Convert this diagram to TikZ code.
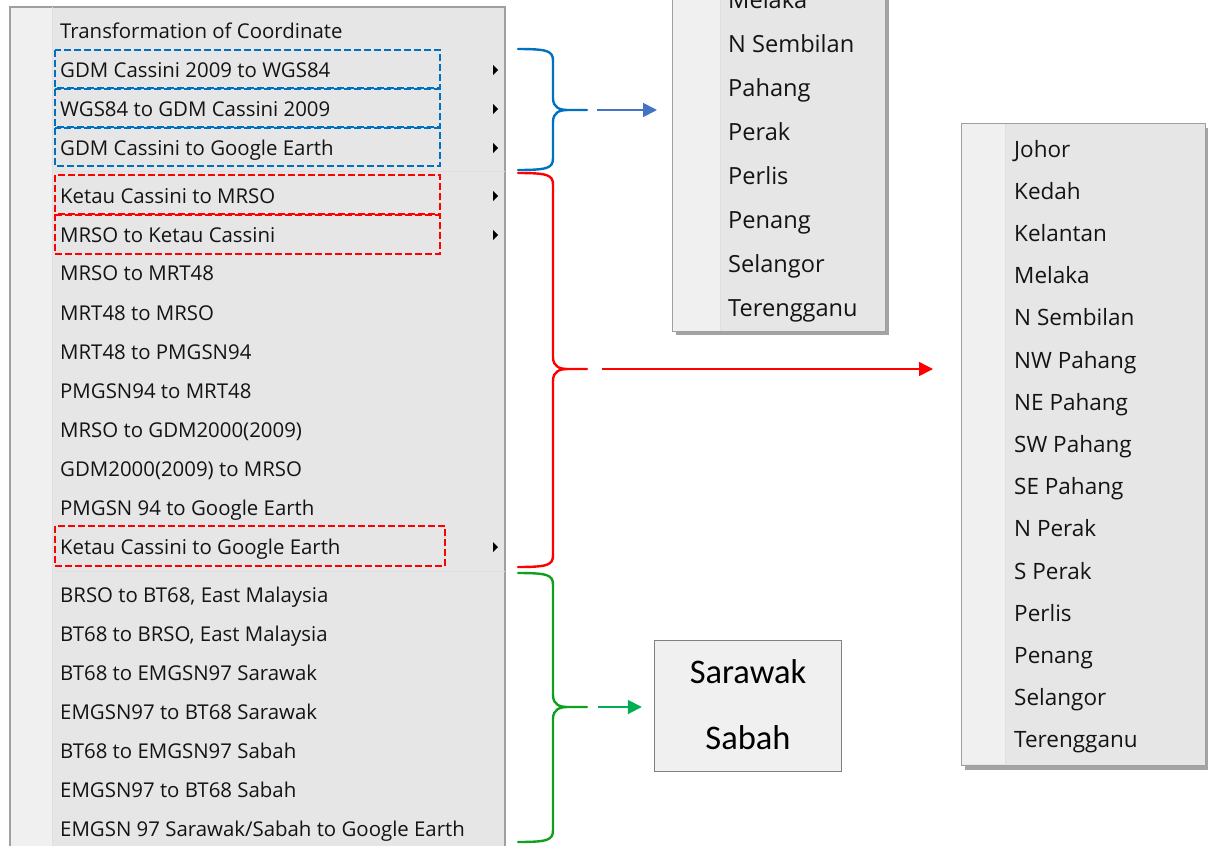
\documentclass[tikz,border=0pt]{standalone}
\usepackage{fontspec}
\setmainfont{Open Sans}
\newfontfamily\boxfont{Carlito}
\usetikzlibrary{arrows.meta,shadows}
\definecolor{menugray}{HTML}{E6E6E6}
\definecolor{guttergray}{HTML}{F0F0F0}
\definecolor{framegray}{HTML}{A0A0A0}
\definecolor{dashblue}{HTML}{0070C0}
\definecolor{bracegreen}{HTML}{10A020}
\definecolor{arrowblue}{HTML}{4472C4}
\definecolor{arrowgreen}{HTML}{00B050}
\tikzset{
  menuitem/.style={
    anchor=base west,
    inner sep=0pt,
    text=black!92,
    font=\fontsize{20.4}{21}\selectfont
  },
  subitem/.style={
    anchor=base west,
    inner sep=0pt,
    text=black!92,
    font=\fontsize{23.6}{24}\selectfont
  },
  panel/.style={
    draw=framegray,
    fill=menugray,
    line width=1.2pt,
    inner sep=0pt,
    drop shadow={shadow xshift=3pt, shadow yshift=-4pt, fill=black!45, opacity=.8}
  },
  statebox/.style={
    draw=black!50,
    fill=guttergray,
    line width=1.4pt,
    inner sep=0pt,
    minimum width=187pt,
    minimum height=131pt
  },
  statetext/.style={
    anchor=base,
    inner sep=0pt,
    font=\boxfont\fontsize{34.5}{35}\selectfont
  },
  bluedash/.style={draw=dashblue, line width=2.2pt, dash pattern=on 7pt off 3pt},
  reddash/.style={draw=red, line width=2.2pt, dash pattern=on 7pt off 3pt},
  curly/.style={line width=2.4pt, line cap=round},
  linkarrow/.style={-{Triangle[length=14pt,width=14pt]}, line width=1.8pt}
}

\begin{document}
\begin{tikzpicture}[x=1pt,y=-1pt]
  \useasboundingbox (0,0) rectangle (1208,846);
  % main menu
  \fill[menugray] (10,7) rectangle (505,860);
  \fill[guttergray] (10,7) rectangle (52,860);
  \draw[framegray, line width=1.2pt] (10,860) -- (10,7) -- (505,7) -- (505,860);
  \draw[black!12, line width=1pt] (52,7) -- (52,860);
  \draw[black!12, line width=1pt] (55,171) -- (505,171) (55,571) -- (505,571);
  \foreach \y/\t [count=\i] in {31/Transformation of Coordinate,
      70/GDM Cassini 2009 to WGS84, 109/WGS84 to GDM Cassini 2009,
      148/GDM Cassini to Google Earth, 196/Ketau Cassini to MRSO,
      235/MRSO to Ketau Cassini, 273/MRSO to MRT48, 313/MRT48 to MRSO,
      352/MRT48 to PMGSN94, 391/PMGSN94 to MRT48, 430/MRSO to GDM2000(2009),
      469/GDM2000(2009) to MRSO, 508/PMGSN 94 to Google Earth,
      547/Ketau Cassini to Google Earth, 595/{BRSO to BT68, East Malaysia},
      634/{BT68 to BRSO, East Malaysia}, 673/BT68 to EMGSN97 Sarawak,
      712/EMGSN97 to BT68 Sarawak, 751/BT68 to EMGSN97 Sabah,
      790/EMGSN97 to BT68 Sabah, 829/{EMGSN 97 Sarawak/Sabah to Google Earth}}{
    \node[menuitem] (m\i) at (60,\y+7) {\t};
  }
  \foreach \y in {70,109,148,196,235,547}
    \fill (493,\y-5) -- (498,\y) -- (493,\y+5) -- cycle;
  \foreach \y in {70,109,148}
    \draw[bluedash] (55,\y-20) rectangle (440,\y+18);
  \foreach \y/\r in {196/440,235/440,547/445}
    \draw[reddash] (55,\y-21) rectangle (\r,\y+19);

  % braces
  \foreach \c/\ya/\yb/\yt in {dashblue/49/170/110, red/173/567/369, bracegreen/573/842/707}{
    \draw[curly, \c] (518,\ya) .. controls (548,\ya) and (553,\ya+2) .. (553,\ya+12)
      -- (553,\yt-12) .. controls (553,\yt-2) and (560,\yt) .. (568,\yt) -- (587,\yt)
      (568,\yt) .. controls (560,\yt) and (553,\yt+2) .. (553,\yt+12)
      -- (553,\yb-12) .. controls (553,\yb-2) and (548,\yb) .. (518,\yb);
  }
  \coordinate (btip) at (587,110);
  \coordinate (rtip) at (587,369);
  \coordinate (gtip) at (587,707);

  % submenus
  \node[panel, anchor=south west, minimum width=213pt, minimum height=340pt] (sub1) at (672,332) {};
  \fill[guttergray] (673,-8) rectangle (720,331);
  \draw[black!12, line width=1pt] (720,-8) -- (720,331);
  \foreach \t [count=\i from 0] in {Melaka, N Sembilan, Pahang, Perak, Perlis,
      Penang, Selangor, Terengganu}
    \node[subitem] (a\i) at (728,8+44*\i) {\t};

  \node[panel, anchor=north west, minimum width=244pt, minimum height=642pt] (sub2) at (961,123) {};
  \fill[guttergray] (962,124) rectangle (1005,764);
  \draw[black!12, line width=1pt] (1005,124) -- (1005,764);
  \foreach \t [count=\i from 0] in {Johor, Kedah, Kelantan, Melaka, N Sembilan,
      NW Pahang, NE Pahang, SW Pahang, SE Pahang, N Perak, S Perak, Perlis,
      Penang, Selangor, Terengganu}
    \node[subitem, font=\fontsize{22.5}{23}\selectfont] (b\i) at (1014,157+42.2*\i) {\t};

  \node[statebox] (sar) at (748,706) {};
  \node[statetext] (sark) at (748,683) {Sarawak};
  \node[statetext] (sabh) at (748,749) {Sabah};

  % arrows
  \draw[linkarrow, arrowblue] ([xshift=10pt]btip) -- ([xshift=-15pt]btip -| sub1.west);
  \draw[linkarrow, red, line width=1.5pt] ([xshift=15pt]rtip) -- ([xshift=-28pt]rtip -| sub2.west);
  \draw[linkarrow, arrowgreen] ([xshift=11pt]gtip) -- ([xshift=-12pt]gtip -| sar.west);
\end{tikzpicture}
\end{document}
